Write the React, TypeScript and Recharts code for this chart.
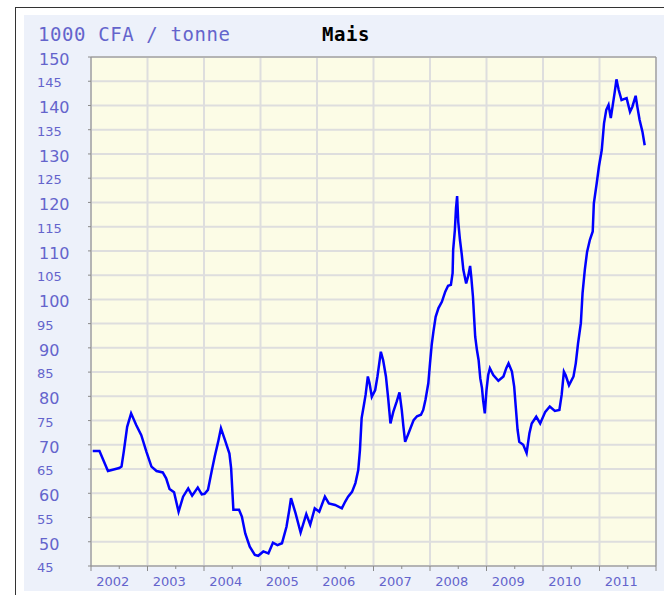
import React from 'react';
import { LineChart, Line, XAxis, YAxis, CartesianGrid, ReferenceLine } from 'recharts';

// decimal year of each observation
const times = [
  2002.03, 2002.15, 2002.3, 2002.5, 2002.54, 2002.58, 2002.64, 2002.71, 2002.8, 2002.89, 2002.98,
  2003.07, 2003.16, 2003.27, 2003.33, 2003.39, 2003.47, 2003.55, 2003.63, 2003.72, 2003.79, 2003.89, 2003.96,
  2004.01, 2004.07, 2004.14, 2004.19, 2004.25, 2004.3, 2004.37, 2004.45, 2004.48, 2004.52, 2004.62, 2004.67,
  2004.73, 2004.81, 2004.9, 2004.96,
  2005.05, 2005.14, 2005.22, 2005.3, 2005.38, 2005.46, 2005.51, 2005.54, 2005.62, 2005.71, 2005.81, 2005.88, 2005.96,
  2006.04, 2006.14, 2006.21, 2006.32, 2006.44, 2006.5, 2006.55, 2006.62, 2006.68, 2006.73, 2006.76, 2006.79,
  2006.83, 2006.86, 2006.9, 2006.93, 2006.97,
  2007.03, 2007.07, 2007.13, 2007.17, 2007.22, 2007.26, 2007.3, 2007.35, 2007.41, 2007.46, 2007.5, 2007.53,
  2007.56, 2007.62, 2007.71, 2007.77, 2007.84, 2007.88, 2007.92, 2007.97,
  2008.0, 2008.03, 2008.06, 2008.1, 2008.15, 2008.21, 2008.27, 2008.32, 2008.37, 2008.4, 2008.41, 2008.44,
  2008.46, 2008.48, 2008.5, 2008.53, 2008.56, 2008.59, 2008.64, 2008.68, 2008.71, 2008.73, 2008.76, 2008.78,
  2008.8, 2008.83, 2008.86, 2008.89, 2008.92, 2008.94, 2008.97,
  2009.0, 2009.03, 2009.06, 2009.12, 2009.21, 2009.3, 2009.35, 2009.39, 2009.45, 2009.49, 2009.52, 2009.55,
  2009.58, 2009.65, 2009.71, 2009.76, 2009.8, 2009.88, 2009.95,
  2010.04, 2010.12, 2010.21, 2010.29, 2010.33, 2010.37, 2010.4, 2010.46, 2010.54, 2010.58, 2010.62, 2010.67,
  2010.7, 2010.74, 2010.78, 2010.83, 2010.88, 2010.9, 2010.95, 2010.99,
  2011.04, 2011.08, 2011.12, 2011.16, 2011.2, 2011.23, 2011.27, 2011.3, 2011.34, 2011.39, 2011.43, 2011.48,
  2011.54, 2011.58, 2011.64, 2011.67, 2011.71, 2011.76, 2011.8,
];

// 1000 CFA / tonne
const prices = [
  68.7, 68.7, 64.6, 65.2, 65.5, 68.6, 73.7, 76.5, 74.1, 72.0, 68.6,
  65.5, 64.6, 64.3, 63.1, 60.9, 60.2, 56.2, 59.3, 61.0, 59.5, 61.2, 59.8,
  59.9, 60.7, 64.8, 67.6, 70.6, 73.4, 71.0, 68.2, 65.2, 56.6, 56.6, 55.2,
  51.7, 49.0, 47.3, 47.1,
  48.0, 47.6, 49.8, 49.3, 49.7, 53.1, 56.6, 59.0, 55.9, 51.9, 55.7, 53.5, 56.9,
  56.2, 59.3, 57.9, 57.6, 56.9, 58.3, 59.3, 60.3, 62.1, 64.8, 68.9, 75.5,
  78.2, 80.3, 84.1, 82.7, 79.9,
  81.3, 84.1, 89.2, 87.5, 84.1, 79.6, 74.4, 76.8, 78.9, 80.8, 77.2, 73.7,
  70.6, 72.4, 75.1, 75.9, 76.2, 77.2, 79.3, 82.7,
  86.8, 90.6, 93.3, 96.4, 98.2, 99.5, 101.6, 102.8, 103.0, 105.4, 110.2, 114.3,
  118.8, 121.3, 116.0, 112.3, 109.5, 106.1, 103.3, 105.0, 106.9, 104.7, 100.6, 96.4,
  92.3, 89.6, 87.5, 83.7, 81.7, 79.2, 76.5,
  81.3, 84.4, 85.8, 84.4, 83.2, 84.1, 85.8, 86.8, 85.1, 82.0, 77.5, 73.1,
  70.6, 70.0, 68.3, 72.4, 74.4, 75.8, 74.4,
  76.8, 77.9, 77.0, 77.2, 80.3, 85.1, 84.4, 82.3, 84.1, 86.8, 90.9, 95.1,
  101.3, 106.1, 109.8, 112.3, 114.0, 119.8, 123.9, 127.4,
  130.8, 136.3, 139.1, 140.1, 137.4, 139.7, 142.8, 145.4, 143.2, 141.1, 141.3, 141.5,
  138.7, 139.7, 142.0, 139.7, 137.0, 134.6, 131.8,
];

const yearBounds = [2002, 2003, 2004, 2005, 2006, 2007, 2008, 2009, 2010, 2011, 2012];
const yearLabels = [2002, 2003, 2004, 2005, 2006, 2007, 2008, 2009, 2010, 2011];
const yTicks = [45, 50, 55, 60, 65, 70, 75, 80, 85, 90, 95, 100, 105, 110, 115, 120, 125, 130, 135, 140, 145, 150];

const data = times.map((t, i) => ({ t, price: prices[i] }));
const xTicks = [...yearBounds, ...yearLabels.map((y) => y + 0.5)].sort((a, b) => a - b);

const LABEL = '#6464cc';
const AXIS = '#8a8a8a';

const YTick = (props: any) => {
  const { x, y, payload } = props;
  const big = payload.value % 10 === 0;
  return (
    <g>
      <line x1={x - 3} x2={x} y1={y} y2={y} stroke={AXIS} />
      <text
        x={big ? 15 : 13}
        y={y + (big ? 8 : 6)}
        fill={LABEL}
        fontSize={big ? 16 : 13}
        fontFamily="DejaVu Sans"
      >
        {payload.value}
      </text>
    </g>
  );
};

const XTick = (props: any) => {
  const { x, y, payload } = props;
  const isBound = Number.isInteger(payload.value);
  return (
    <g>
      <line x1={x} x2={x} y1={y} y2={y + (isBound ? 5 : 3)} stroke={AXIS} />
      {!isBound && (
        <text x={x - 6.5} y={y + 20} textAnchor="middle" fill={LABEL} fontSize={13} fontFamily="DejaVu Sans">
          {Math.floor(payload.value)}
        </text>
      )}
    </g>
  );
};

// vertical grid only at year boundaries, mapped linearly over the plot width
const gridX = (props: any) => {
  const { offset } = props;
  const first = yearBounds[0];
  const span = yearBounds[yearBounds.length - 1] - first;
  return yearBounds.map((yr) => offset.left + ((yr - first) / span) * offset.width);
};

export default function App() {
  return (
    <div style={{ position: 'relative', width: 664, height: 595, overflow: 'hidden', background: '#fff' }}>
      <style>{`body{margin:0}`}</style>
      <div
        style={{
          position: 'absolute',
          left: 15,
          top: 7,
          width: 700,
          height: 700,
          borderTop: '1px solid #333',
          borderLeft: '1px solid #333',
        }}
      />
      <div style={{ position: 'absolute', left: 24, top: 15, width: 640, height: 576, background: '#edf1fa' }}>
        <svg width={640} height={40} style={{ position: 'absolute', left: 0, top: 0 }}>
          <text x={14} y={26} fill={LABEL} fontSize={19} letterSpacing={0.6} fontFamily="DejaVu Sans Mono">
            1000 CFA / tonne
          </text>
          <text x={298} y={26} fill="#000" fontSize={19} fontWeight="bold" letterSpacing={0.6} fontFamily="DejaVu Sans Mono">
            Mais
          </text>
        </svg>
        <LineChart width={640} height={576} data={data} margin={{ top: 42, right: 8, bottom: 0, left: 0 }}>
          <CartesianGrid
            fill="#fcfce6"
            stroke="#dedede"
            strokeWidth={2}
            verticalCoordinatesGenerator={gridX}
          />
          <XAxis
            dataKey="t"
            type="number"
            domain={[2002, 2012]}
            ticks={xTicks}
            interval={0}
            height={25}
            tickSize={0}
            tickMargin={0}
            tickLine={false}
            stroke={AXIS}
            tick={<XTick />}
            allowDataOverflow
          />
          <YAxis
            type="number"
            domain={[45, 150]}
            ticks={yTicks}
            interval={0}
            width={67}
            tickSize={0}
            tickMargin={0}
            tickLine={false}
            stroke={AXIS}
            tick={<YTick />}
            allowDataOverflow
          />
          <ReferenceLine y={150} stroke={AXIS} />
          <ReferenceLine x={2012} stroke={AXIS} />
          <Line
            type="linear"
            dataKey="price"
            stroke="#0000ff"
            strokeWidth={2.5}
            dot={false}
            isAnimationActive={false}
          />
        </LineChart>
      </div>
    </div>
  );
}
